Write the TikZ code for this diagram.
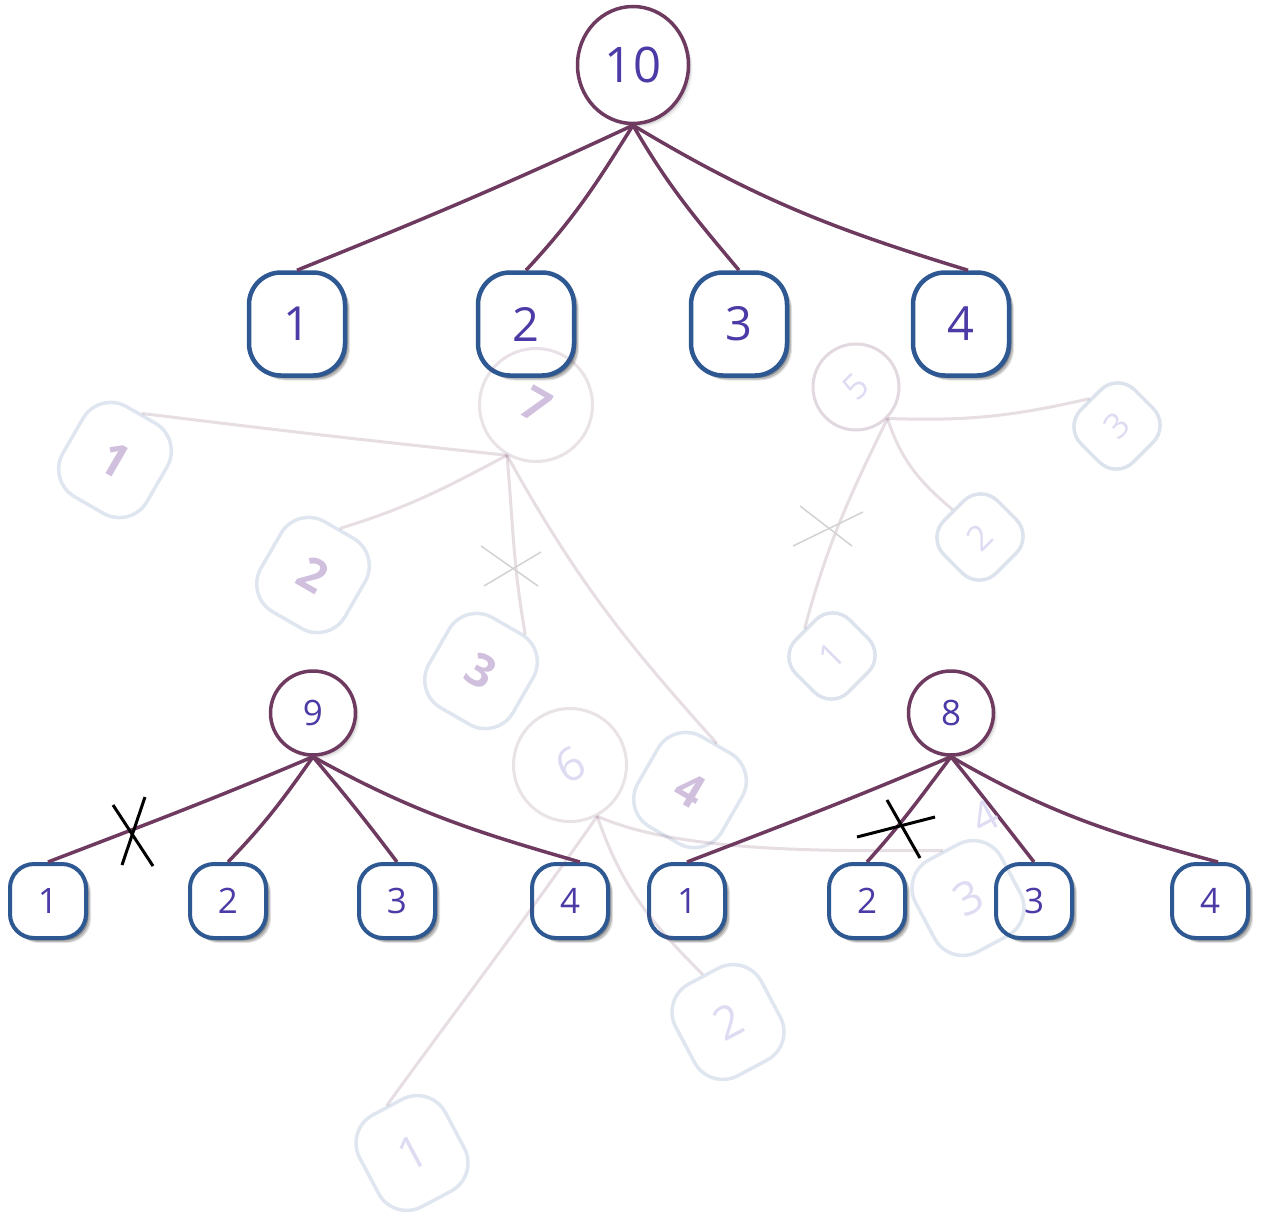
\documentclass[tikz,border=0pt]{standalone}
\usepackage{fontspec}
\setmainfont{Open Sans}
\usetikzlibrary{shapes.geometric,shadows,calc}
\definecolor{edgec}{RGB}{110,58,96}
\definecolor{boxc}{RGB}{46,88,146}
\definecolor{txtc}{RGB}{76,58,166}
\definecolor{ghtxtA}{RGB}{208,192,222}
\definecolor{ghtxtB}{RGB}{222,220,242}
\definecolor{ghx}{RGB}{210,210,210}
\tikzset{
  softshadow/.style={
    general shadow={shadow xshift=5pt,shadow yshift=-5pt,fill=black,opacity=0.10},
    general shadow={shadow xshift=4pt,shadow yshift=-4pt,fill=black,opacity=0.18},
    general shadow={shadow xshift=2.5pt,shadow yshift=-2.5pt,fill=black,opacity=0.28}},
  lightshadow/.style={
    general shadow={shadow xshift=4pt,shadow yshift=-4pt,fill=black,opacity=0.06},
    general shadow={shadow xshift=2.5pt,shadow yshift=-2.5pt,fill=black,opacity=0.10}},
  bigbox/.style={draw=boxc,line width=4.5pt,fill=white,rounded corners=32pt,
    minimum width=96pt,minimum height=103pt,inner sep=0pt,text=txtc,
    font=\fontsize{47}{47}\selectfont,softshadow},
  smallbox/.style={draw=boxc,line width=4pt,fill=white,rounded corners=24pt,
    minimum width=76pt,minimum height=74pt,inner sep=0pt,text=txtc,
    font=\fontsize{35}{35}\selectfont,softshadow},
  bigroot/.style={ellipse,draw=edgec,line width=3.5pt,fill=white,
    minimum width=111pt,minimum height=117pt,inner sep=0pt,text=txtc,
    font=\fontsize{49}{49}\selectfont,lightshadow},
  smallroot/.style={ellipse,draw=edgec,line width=3.5pt,fill=white,
    minimum width=85pt,minimum height=84pt,inner sep=0pt,text=txtc,
    font=\fontsize{35}{35}\selectfont,lightshadow},
  link/.style={draw=edgec,line width=3.5pt},
  xmark/.style={draw=black,line width=3pt},
  gbigbox/.style={draw=boxc,draw opacity=0.15,line width=3.5pt,rounded corners=32pt,
    minimum width=97pt,minimum height=104pt,inner sep=0pt,
    font=\fontsize{46}{46}\selectfont},
  gsmallbox/.style={draw=boxc,draw opacity=0.17,line width=3.5pt,rounded corners=24pt,
    minimum width=76pt,minimum height=74pt,inner sep=0pt,
    font=\fontsize{35}{35}\selectfont,text=ghtxtB},
  gbigcirc/.style={circle,draw=edgec,draw opacity=0.15,line width=3pt,
    minimum size=113pt,inner sep=0pt,font=\fontsize{46}{46}\selectfont},
  gsmallcirc/.style={circle,draw=edgec,draw opacity=0.2,line width=3pt,
    minimum size=86pt,inner sep=0pt,font=\fontsize{35}{35}\selectfont,text=ghtxtB},
  glink/.style={draw=edgec,draw opacity=0.17,line width=3pt},
  gx/.style={draw=ghx,line width=1.5pt},
  boldghost/.style={text=ghtxtA,font=\fontsize{46}{46}\selectfont\bfseries},
  lightghost/.style={text=ghtxtB}
}
\begin{document}
\begin{tikzpicture}[x=1pt,y=1pt]
\useasboundingbox (0,0) rectangle (1261,-1218);

% ---------- main tree ----------
\node[bigroot] (r10) at (633,-65) {10};
\node[bigbox] (t1) at (297,-324) {1};
\node[bigbox] (t2) at (526,-324) {2};
\node[bigbox] (t3) at (739,-324) {3};
\node[bigbox] (t4) at (961,-324) {4};

\node[smallroot] (r9) at (313,-713) {9};
\node[smallbox] (a1) at (48,-901) {1};
\node[smallbox] (a2) at (228,-901) {2};
\node[smallbox] (a3) at (397,-901) {3};
\node[smallbox] (a4) at (570,-901) {4};

\node[smallroot] (r8) at (951,-713) {8};
\node[smallbox] (b1) at (687,-901) {1};
\node[smallbox] (b2) at (867,-901) {2};
\node[smallbox] (b3) at (1034,-901) {3};
\node[smallbox] (b4) at (1210,-901) {4};

\draw[link] (r10.south) to[out=205,in=22] (t1.north);
\draw[link] (r10.south) to[out=238,in=47] (t2.north);
\draw[link] (r10.south) to[out=300,in=130] (t3.north);
\draw[link] (r10.south) to[out=329,in=163] ([xshift=7pt]t4.north);

\draw[link] (r9.south) to[out=203,in=21] (a1.north);
\draw[link] (r9.south) to[out=235,in=46] (a2.north);
\draw[link] (r9.south) to[out=310,in=127] (a3.north);
\draw[link] (r9.south) to[out=331,in=164] ([xshift=10pt]a4.north);

\draw[link] (r8.south) to[out=203,in=21] (b1.north);
\draw[link] (r8.south) to[out=233,in=48] (b2.north);
\draw[link] (r8.south) to[out=309,in=128] (b3.north);
\draw[link] (r8.south) to[out=330,in=165] ([xshift=8pt]b4.north);

% ---------- ghost tree 7 ----------
\node[gbigcirc,rotate=-30,boldghost] (g7) at (536,-405) {7};
\node[gbigbox,rotate=-30,boldghost] (g7a) at (115,-460) {1};
\node[gbigbox,rotate=-30,boldghost] (g7b) at (313,-575) {2};
\node[gbigbox,rotate=-30,boldghost] (g7c) at (481,-671) {3};
\node[gbigbox,rotate=-30,boldghost] (g7d) at (690,-790) {4};
\draw[glink] (g7.south) to[out=174,in=353] (g7a.north);
\draw[glink] (g7.south) to[out=208,in=17] (g7b.north);
\draw[glink] (g7.south) to[out=275,in=100] ($(g7c.north)!0.4!(g7c.north east)$);
\draw[glink] (g7.south) to[out=299,in=132] (g7d.north);
\draw[gx] (481,-546) -- (538,-586);
\draw[gx] (484,-586) -- (541,-552);

% ---------- ghost tree 5 ----------
\node[gsmallcirc,rotate=45] (g5) at (856,-387) {5};
\node[gsmallbox,rotate=45] (g5a) at (832,-656) {1};
\node[gsmallbox,rotate=45] (g5b) at (980,-537) {2};
\node[gsmallbox,rotate=45] (g5c) at (1117,-426) {3};
\draw[glink] (g5.south) to[out=-2,in=193] (g5c.north);
\draw[glink] (g5.south) to[out=288,in=140] (g5b.north);
\draw[glink] (g5.south) to[out=244,in=75] (g5a.north);
\draw[gx] (800,-506) -- (852,-546);
\draw[gx] (793,-546) -- (863,-512);

% ---------- ghost tree 6 ----------
\node[gbigcirc,rotate=28,lightghost] (g6) at (570,-765) {6};
\node[gbigbox,rotate=28,lightghost] (g6a) at (412,-1153) {1};
\node[gbigbox,rotate=28,lightghost] (g6b) at (728,-1022) {2};
\node[gbigbox,rotate=28,lightghost] (g6c) at (968,-898) {3};
\node[rotate=28,text=ghtxtB,font=\fontsize{42}{42}\selectfont,inner sep=0pt] (g6d) at (985,-817) {4};
\draw[glink] (g6.south) to[out=235,in=54] (g6a.north);
\draw[glink] (g6.south) to[out=289,in=135] (g6b.north);
\draw[glink] (g6.south) to[out=336,in=180,looseness=0.7] (g6c.north);

% ---------- crosses ----------
\draw[xmark] (145,-797) -- (122,-865);
\draw[xmark] (113,-805) -- (153,-866);
\draw[xmark] (857,-837) -- (935,-817);
\draw[xmark] (887,-800) -- (920,-858);
\end{tikzpicture}
\end{document}
